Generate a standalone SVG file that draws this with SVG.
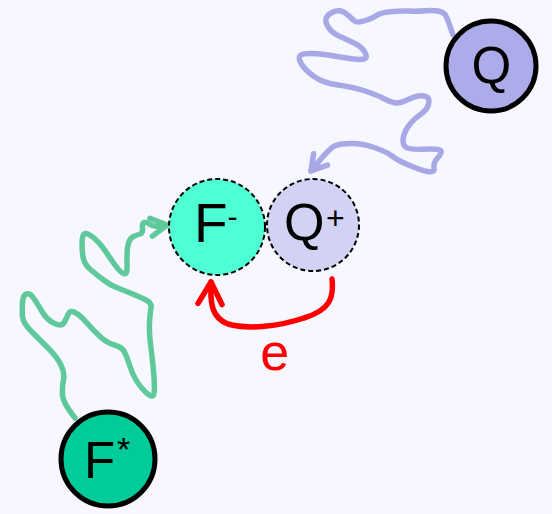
<svg xmlns="http://www.w3.org/2000/svg" width="552" height="514" viewBox="0 0 552 514">
<defs>
<style>
.conn{fill:none;stroke-width:5.5;stroke-linecap:round;stroke-linejoin:round}
.solid{stroke:#000;stroke-width:5}
.dash{stroke:#000;stroke-width:2;stroke-dasharray:5 3}
.lbl{font-family:"Liberation Sans",Arial,sans-serif;fill:#000}
</style>
<marker id="ahBlue" markerUnits="userSpaceOnUse" orient="auto" refX="0" refY="0" markerWidth="40" markerHeight="40" overflow="visible">
<path d="M-15,-9 L0,0 L-15,9" fill="none" stroke="#a8a8e6" stroke-width="5.5" stroke-linecap="round" stroke-linejoin="round"/>
</marker>
<marker id="ahGreen" markerUnits="userSpaceOnUse" orient="auto" refX="0" refY="0" markerWidth="40" markerHeight="40" overflow="visible">
<path d="M-16,-9 L0,0 L-16,9" fill="none" stroke="#60c99b" stroke-width="5.5" stroke-linecap="round" stroke-linejoin="round"/>
</marker>
<marker id="ahRed" markerUnits="userSpaceOnUse" orient="auto" refX="0" refY="0" markerWidth="40" markerHeight="40" overflow="visible">
<path d="M-22,-12 L0,0 L-22,12" fill="none" stroke="#ff0000" stroke-width="5.5" stroke-linecap="round" stroke-linejoin="round"/>
</marker>
</defs>
<rect width="552" height="514" fill="#f6f7ff"/>
<g id="connectors">
<path class="conn" stroke="#a8a8e6" marker-end="url(#ahBlue)" d="M453,35 Q447,17 445,14.5 Q443,12 438,11 Q433,10 425,10.75 Q417,11.5 408.5,11.1 Q400,10.7 390,11.850 Q380,13 376.5,15.5 Q373,18 365.5,20.5 Q358,23 355.5,21.5 Q353,20 349,16 Q345,12 341,11 Q337,10 332,12.5 Q327,15 326,18.5 Q325,22 328.5,27.5 Q332,33 340,36.5 Q348,40 355,43.5 Q362,47 365,52.5 Q368,58 364,59 Q360,60 350,58.5 Q340,57 330,55.25 Q320,53.5 311,53.5 Q302,53.5 300,55.75 Q298,58 301.5,64 Q305,70 314,76.5 Q323,83 338,85 Q353,87 365,91 Q377,95 383.5,98.5 Q390,102 395,102.75 Q400,103.5 406.5,100.25 Q413,97 418,96 Q423,95 426.5,96.75 Q430,98.5 428.5,104.25 Q427,110 421,114 Q415,118 410,124 Q405,130 403.5,136.5 Q402,143 405,146.5 Q408,150 424,149.25 Q440,148.5 441,150.75 Q442,153 437.5,158 Q433,163 434,168 Q435,173 427.5,171.5 Q420,170 408.5,165 Q397,160 392,156 Q387,152 375,147.75 Q363,143.5 351.5,143.5 Q340,143.5 335,145.75 Q330,148 320.5,159.5 L311,171"/>
<path class="conn" stroke="#60c99b" marker-end="url(#ahGreen)" d="M75,418 Q63,403 62.5,395 Q62,387 63.5,380 Q65,373 61,365 Q57,357 48.5,348.5 Q40,340 31.5,331.5 Q23,323 22.5,316.5 Q22,310 22.5,302.5 Q23,295 26.5,294 Q30,293 33.5,298 Q37,303 42,311.5 Q47,320 54.5,323.5 Q62,327 64.5,322 Q67,317 68.5,313.5 Q70,310 75,312.5 Q80,315 86.5,322.5 Q93,330 100,336.5 Q107,343 114.5,345 Q122,347 124.5,352 Q127,357 129.5,365 Q132,373 136,380 Q140,387 146,392.5 Q152,398 153.5,395 Q155,392 154,377.5 Q153,363 151,348 Q149,333 149.5,323 Q150,313 151,308 Q152,303 146,300 Q140,297 131.5,293.5 Q123,290 116.5,287.5 Q110,285 103.5,280 Q97,275 91,270 Q85,265 83.5,259 Q82,253 82,243.5 Q82,234 85,233.5 Q88,233 94,238 Q100,243 105,250.5 Q110,258 115,265 Q120,272 123.5,273.5 Q127,275 127,269 Q127,263 127,255.5 Q127,248 128.5,243 Q130,238 133.5,236.5 Q137,235 140,234 Q143,233 142.5,228 Q142,223 144.5,222.5 Q147,222 150,224.5 Q153,227 160,226 L167,225"/>
<path class="conn" stroke="#ff0000" marker-end="url(#ahRed)" d="M332,279 C334,298 330,310 304,318 C280,326 248,330 228,324 C212,318 210,304 211,282"/>
<text class="lbl" x="274.7" y="369.5" font-size="52" text-anchor="middle" style="fill:#ff0000">e</text>
</g>
<g id="node-Q">
<circle cx="491" cy="66" r="45" fill="#acacea" class="solid"/>
<text class="lbl" x="491.3" y="83" font-size="51" text-anchor="middle">Q</text>
</g>
<g id="node-Fminus">
<circle cx="217" cy="227" r="48" fill="#4dffd2" class="dash"/>
<text class="lbl" x="194" y="241.7" font-size="55">F<tspan font-size="30" dy="-15">-</tspan></text>
</g>
<g id="node-Qplus">
<circle cx="313" cy="225" r="46" fill="#d2d2f4" class="dash"/>
<text class="lbl" x="284" y="240" font-size="52">Q<tspan x="326" y="229" font-size="32">+</tspan></text>
</g>
<g id="node-Fstar">
<circle cx="108" cy="459" r="47" fill="#00cc99" class="solid"/>
<text class="lbl" x="84" y="478.3" font-size="51">F<tspan x="117" y="461" font-size="34">*</tspan></text>
</g>
</svg>
